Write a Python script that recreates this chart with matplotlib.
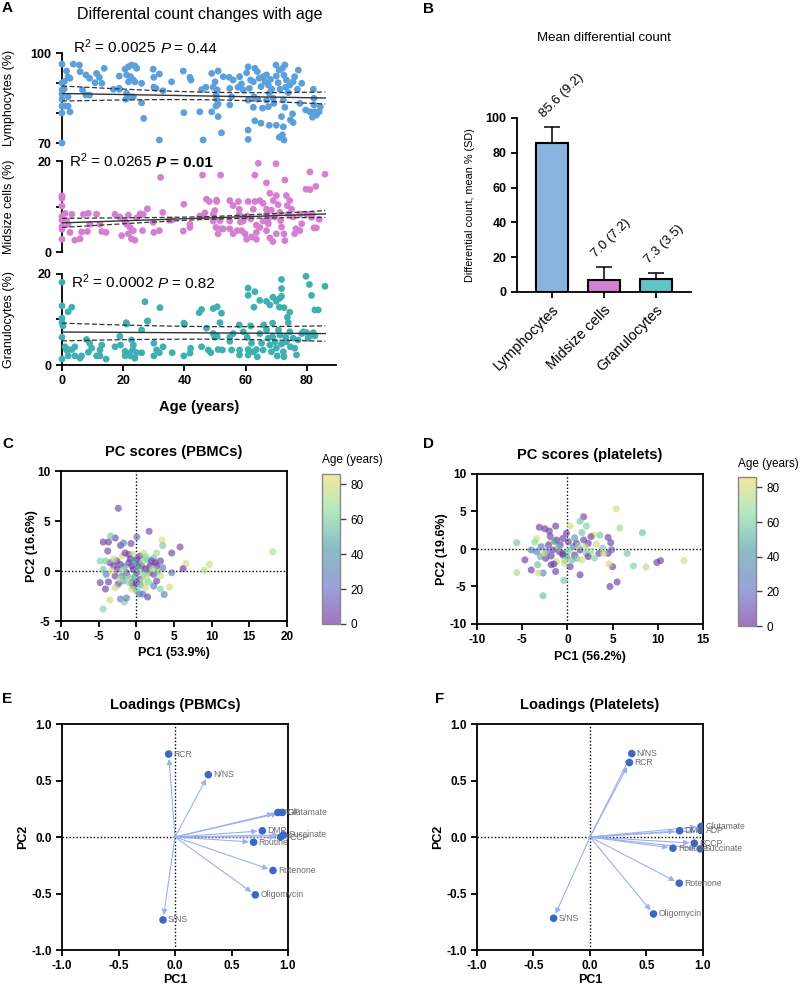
import numpy as np
import matplotlib
matplotlib.use('Agg')
import matplotlib.pyplot as plt
from matplotlib.colors import LinearSegmentedColormap

plt.rcParams['font.family'] = ['Liberation Sans', 'DejaVu Sans']
plt.rcParams['mathtext.fontset'] = 'custom'
plt.rcParams['mathtext.rm'] = 'Liberation Sans'
plt.rcParams['mathtext.it'] = 'Liberation Sans:italic'
plt.rcParams['mathtext.bf'] = 'Liberation Sans:bold'
plt.rcParams['axes.linewidth'] = 1.3

# ---- panel A: (age, %)
lymph = [(0,96.3),(0,90),(0,87.7),(0,86.3),(0,84.6),(0,82.3),(0,80),(0,70),(1.5,94),(2,92),(0.8,90.5),
         (2.6,91.6),(0.7,88),(2,85.4),(1,82.3),(2,82.3),(2.6,80.4),(3.7,96.3),(5.7,96),(5.9,93.8),(7.8,92.7),
         (9,91.6),(6.7,87.7),(7.8,86),(9,86),(11.3,93.2),(12.2,91.9),(10.8,90.1),(13.8,94.9),(13,89.9),
         (16.8,87.9),(18.7,92.3),(18.7,88.2),(20.6,94.6),(21.7,95.4),(22.7,96),(23.8,95.7),(24.4,94.9),
         (21.1,92.7),(22.4,92.1),(23.3,91),(21.7,90.4),(23.8,90.4),(21.1,86.6),(22.4,85.4),(20.9,84.6),
         (23.3,85.4),(18.7,87.9),(26,89.9),(26,83.4),(26.7,78.2),(29.8,94.6),(31.8,93),(30,91.9),(30,88.6),
         (30.7,88.2),(33,87.4),(31.8,71),(35.8,90.4),(39.6,94),(41.8,91.9),(42.1,91),(39.8,80.1),(45,80.4),
         (45.6,87.8),(46.1,71),(47,88.6),(48.9,93.2),(51,94),(50,90.4),(49.4,88.6),(50.7,87.7),(50.3,86),
         (50.5,84.6),(51,83),(50.3,82.3),(48.9,80.4),(51,78.8),(52.1,73.4),(52.7,92.1),(54.6,91.9),(55.9,91),
         (54.8,88.2),(55.4,85.4),(54.8,82.7),(58,92.1),(57.5,88.6),(58.6,89.7),(59.2,87.7),(60.8,95.4),
         (60.3,93.4),(61.6,91),(61.2,88.2),(62.5,90.4),(62.7,85.4),(60.8,84.3),(62.5,81.9),(60.8,74.3),
         (60.8,71.2),(63,77.4),(63,94.9),(63.8,93.8),(64.4,91.6),(65,88.8),(65.7,92.1),(66.3,90.4),(66.8,92.7),
         (67.4,89.3),(68.1,91.2),(68.5,87.9),(67.7,86.6),(66.8,84.3),(69,84.9),(69.2,83.2),(70,92.3),(70.6,90.1),
         (71.2,87.9),(69.9,96),(71,94.3),(72,94.9),(72.8,96),(72.5,92.6),(73.3,91),(73.1,88.6),(73.9,86.8),
         (74.4,89.3),(72.3,84.3),(72.8,81.9),(71.7,78.8),(72.3,75.4),(72,72.7),(72.5,71),(71,71.9),(70,75.9),
         (67.7,75.9),(67.4,82.1),(65,76.6),(65.5,81.6),(63.9,84.6),(75.5,90.4),(76,92.1),(77.2,94.3),(76.9,87.9),
         (75.3,79.7),(74.6,77.7),(75.5,76.8),(78.3,89.9),(77.7,83.2),(79.6,81),(81,80.4),(82.1,87.9),(82.3,82.7),
         (82.6,80.4),(83.1,79.3),(84,80.4),(84.4,82.1),(81.8,78.6),(82.3,84.9)]

midsize = [(64.1,19.5),(69.9,19.4),(32.2,16.4),(45.9,16.9),(51.8,16.9),(63,16.9),(72.8,15.8),(66.8,15.2),
           (81,17.6),(85.9,17.1),(82.9,14.4),(79.7,13.8),(81,13.7),(0,12.2),(47.2,11.6),(50.5,11.4),(0,12.3),
           (0,11.8),(0,10.1),(1,8.5),(3.2,8.3),(0,7.8),(0,7),(1.5,6.9),(0,5.6),(0,5.0),(0,2.8),(2,6.1),(2.6,4.3),
           (4.2,2.6),(5.9,2.9),(6.4,4.4),(7,8.3),(8.6,8.5),(11.3,8.3),(9.1,6.1),(8.3,4.5),(12.4,6.1),(13,4.5),
           (14.4,4.3),(17.3,8.3),(18.9,7.7),(19.5,3.6),(21.7,8.1),(21.1,6.1),(22.2,5.4),(21.7,4.0),(22.7,2.9),
           (23.8,2.6),(23.3,4.7),(24.4,7.5),(20.6,6.8),(25.5,8.4),(26.5,8.3),(27.9,9.5),(26.3,4.7),(29.8,6.5),
           (30,4.3),(31.8,4.7),(32.9,8.7),(35,7.0),(35.8,7.0),(39.8,10.5),(39.6,4.6),(41.8,5.4),(41.8,6.1),
           (45,7.9),(46.1,7.9),(48.1,11.1),(50.5,11.1),(49.4,6.8),(50.3,5.4),(51,4.0),(49.4,8.3),(49.9,9.1),
           (52.1,5.1),(51.6,6.9),(52.7,5.1),(54.8,5.1),(54.8,6.8),(55.9,4.0),(54.8,11.3),(55.9,10.2),(57.6,11.1),
           (57.9,9.4),(57.9,8.3),(58.3,6.6),(58.7,4.7),(60.3,2.8),(60.8,11.1),(60.5,7.9),(61.6,7.3),(63,11.1),
           (62.5,9.4),(63.5,5.9),(63.5,4.3),(63.5,2.8),(64.6,11.3),(65.7,10.7),(66.8,9.4),(66.8,8.3),(67.4,7.3),
           (67.4,6.2),(66.8,4.7),(67.9,3.1),(68.9,2.3),(69,11.3),(70,12.4),(70.6,10.4),(71.2,8.7),(71.4,6.9),
           (71.7,5.5),(70,4.0),(72.5,4.0),(72.8,2.5),(73.6,10.2),(73.9,8.3),(74.4,11.3),(75,9.4),(75.5,7.7),
           (76.4,5.1),(76,4.0),(77.7,4.7),(78.3,6.2),(79.9,8.3),(81.5,7.6),(82.3,5.3),(83.1,5.3),(84,7.2),
           (81.8,8.3),(77.7,8.3),(73.3,12.4),(67.9,12.9),(68.4,9.2),(69.5,7.7),(65.7,6.8),(64.6,5.4),(59.2,6.8),
           (59.8,4.0),(61.9,3.3),(57.2,4.7),(46.7,8.6)]

granulo = [(0,18.2),(0,13.0),(3.2,12.7),(2,11.7),(27.1,13.9),(32,12.6),(44.8,11.5),(45.6,12.2),(49.4,12.4),
           (50.7,12.8),(60.8,16.9),(60.8,15.3),(63,16.1),(62.7,12.7),(64.6,14.2),(66.8,14.0),(67.9,13.2),
           (68.9,14.9),(70,14.0),(71,14.6),(71.7,18.8),(71.7,16.8),(71.7,15.1),(71,12.7),(72.5,12.6),(74.4,11.6),
           (73.6,10.5),(79.7,19.5),(80.8,17.7),(81.5,15.3),(82.6,12.1),(83.7,12.1),(85.9,17.3),(27.9,9.6),
           (21.1,9.0),(40,8.9),(0,10.3),(0,9.3),(0.3,8.6),(0,6.1),(1,4.0),(2,3.4),(3.2,3.4),(1.5,3.3),(4.2,4.0),
           (2,2.0),(4.2,2.0),(6.4,2.0),(5.9,1.5),(0,1.3),(8,5.6),(9,4.8),(9.7,3.7),(8.6,2.8),(11.3,2.0),(12.4,2.0),
           (12.4,3.3),(13,4.4),(14.4,1.3),(17.3,4.0),(18.9,6.3),(19.1,4.4),(20.6,3.0),(21,9.3),(20.6,2.0),
           (21.7,2.6),(22.4,2.0),(23.1,3.4),(23.8,1.5),(24.4,2.7),(22.7,5.5),(23.3,4.4),(26,7.7),(26,2.7),
           (28,9.7),(30,4.8),(30,2.0),(30.9,3.3),(31.8,2.7),(33,4.0),(36,2.7),(39.8,2.0),(39.8,9.2),(42,3.7),
           (41.8,2.6),(45.6,4.0),(47.2,8.1),(47.8,3.3),(48.6,2.7),(49.4,6.9),(49.9,6.1),(50.7,6.3),(51,3.4),
           (52.4,3.3),(51.6,9.3),(52.1,11.4),(54.8,6.1),(54.8,5.2),(55.4,3.3),(55.9,6.9),(57.9,8.8),(58,3.3),
           (58,2.2),(59.2,7.3),(60.5,6.1),(60.8,3.4),(60.8,2.2),(61.6,8.6),(61.9,4.8),(62.5,2.9),(63.5,3.4),
           (63.8,1.8),(64.6,6.9),(65.2,4.8),(65.7,3.3),(65.9,8.8),(66.8,7.7),(67.4,5.9),(67.9,4.4),(68.4,2.9),
           (68.8,6.2),(68.8,9.2),(69.6,5.1),(70,3.7),(70.3,2.0),(70.7,7.7),(71.2,6.6),(71.7,4.6),(72.3,2.9),
           (72.5,1.8),(73.1,6.1),(73.3,5.1),(73.9,9.3),(74.4,7.3),(74.6,4.0),(75.5,5.9),(76,3.7),(76.6,2.2),
           (77.1,5.5),(78.3,6.9),(78.8,7.3),(79.9,7.1),(80.4,5.9),(81.5,6.6),(82.1,7.1),(82.6,6.4)]

# linear fits: intercept, slope, CI half-width at age 0 and at age 86
lymph_fit = (86.5, -0.0175, 2.5, 2.0)
mid_fit = (6.4, 0.0227, 1.0, 0.75)
gran_fit = (7.25, -0.004, 1.95, 1.7)
mean_age = 50

# ---- panel B
cell_types = ['Lymphocytes', 'Midsize cells', 'Granulocytes']
mean_pct = [85.6, 7.0, 7.3]
sd_pct = [9.2, 7.2, 3.5]

# ---- panels C, D: (PC1, PC2, age)
pbmc_scores = [(18.1,1.92,72),(9.7,0.66,80),(9.0,0.07,74),(6.6,0.76,80),(6.2,0.23,3),(5.8,2.4,8),(4.7,1.8,8),
    (4.7,-0.17,22),(4.4,-1.6,80),(3.7,-2.35,28),(3.4,3.1,82),(3.5,2.55,58),(1.7,3.97,8),(0.06,3.4,25),
    (-4.4,2.9,6),(-3.7,2.9,5),(-2.8,3.3,8),(-3.4,3.5,58),(-3.8,2.0,8),(-2.4,6.27,8),(-2.1,2.55,6),
    (-0.7,2.75,8),(-1.7,2.8,25),(-4.8,-1.16,8),(-4.1,-1.8,6),(-3.5,-2.9,78),(-4.4,-3.8,62),(-2.1,-2.8,25),
    (-1.6,-3.1,60),(-1.3,-2.7,28),(0.4,-2.3,25),(0.85,-2.3,22),(1.5,-2.6,6),(2.3,-1.5,25),(2.7,-1.0,6),
    (3.2,-0.5,80),(3.5,0.33,25),(3.2,1.0,6),(2.7,0.5,5),(2.3,1.3,55),(1.6,0.33,80),(1.05,-0.17,78),
    (0.5,-0.83,5),(0.06,-1.16,4),(-0.4,-1.5,5),(-0.83,-0.66,76),(-1.3,-0.17,5),(-1.7,-1.0,50),(-2.4,-1.3,6),
    (-2.8,-0.5,5),(-3.0,0.5,6),(-2.6,1.0,5),(-3.5,0.83,8),(-4.1,1.0,60),(-4.0,-0.33,25),(-1.9,1.5,80),
    (-1.5,1.8,5),(-1.0,1.66,8),(-0.4,1.66,78),(0.06,1.16,5),(0.5,1.5,6),(1.0,1.8,80),(1.4,1.16,55),
    (2.0,1.0,6),(2.5,0.83,5),(1.8,-0.17,50),(2.3,-0.33,6),(1.4,-0.66,80),(0.7,0.5,4),(-0.6,0.5,5),
    (-1.0,0.83,6),(-2.1,0.66,5),(-2.5,0.17,6),(-3.3,0.0,80),(-4.4,0.17,58),(-2.8,-1.66,78),(-0.6,-1.8,80),
    (0.06,-2.0,55),(1.2,-1.66,80),(3.2,-1.8,62),(2.7,1.8,70),(0.06,-0.17,5),(-0.4,0.17,4),(0.4,0.83,6),
    (1.2,0.17,5),(1.8,0.5,6),(-0.8,1.2,5),(-1.6,0.43,28),(0.85,-1.0,80),(-0.6,-1.16,6),(-1.9,-0.5,25),
    (-3.0,1.2,78),(-4.8,1.0,62),(-3.7,-1.1,6),(0.3,0.2,60),(1.0,-0.4,65),(-0.2,-0.6,45),(0.8,0.9,70),
    (-1.2,-0.5,58),(1.6,-1.1,62),(2.2,0.2,75),(-0.9,-1.2,66),(0.5,-1.4,52),(-1.8,0.1,70),(1.3,1.4,64),
    (-0.3,1.0,42),(2.9,0.0,57),(-2.2,-0.8,72),(0.2,0.5,35)]

platelet_scores = [(5.4,5.36,80),(1.8,4.3,8),(5.8,2.8,70),(8.3,2.17,55),(6.6,-0.58,58),(7.3,-2.26,62),
    (8.7,-2.4,75),(9.9,-1.8,6),(10.3,-1.55,6),(12.9,-1.55,80),(4.7,-5.0,6),(5.5,-4.4,6),(5.0,-2.35,6),
    (4.6,-2.0,80),(4.5,-0.58,6),(4.9,-0.1,15),(4.8,0.84,6),(4.5,1.55,6),(3.5,-0.58,5),(4.0,-0.58,80),
    (3.6,1.86,58),(2.9,1.86,80),(2.1,3.05,62),(1.4,3.7,58),(1.4,-3.45,6),(0.3,-2.35,6),(-0.3,-1.9,80),
    (-0.4,-4.2,58),(-1.3,-3.0,6),(-2.7,-6.24,55),(-2.7,-3.2,25),(-3.2,-3.2,78),(-4.0,-2.8,6),(-4.7,-1.46,6),
    (-5.6,-3.14,70),(-5.6,0.84,58),(-3.3,-2.1,55),(-3.4,1.4,80),(-3.1,2.9,6),(-2.5,2.7,6),(-2.0,2.4,6),
    (-1.3,3.05,6),(0.3,3.05,80),(-0.1,2.1,6),(-1.2,1.2,5),(-0.8,0.53,5),(-1.6,-0.13,5),(-2.3,-0.35,25),
    (-2.9,0.31,25),(-3.4,-0.35,25),(-4.0,-0.13,30),(-3.0,-1.0,50),(-2.4,-1.24,6),(-1.8,-0.93,5),
    (-1.2,-1.7,80),(-0.5,-0.58,5),(-0.1,-1.0,50),(0.5,-1.46,55),(0.8,-0.8,6),(1.4,-0.13,6),(1.8,1.2,6),
    (2.3,0.75,5),(2.6,1.64,6),(3.2,0.66,80),(3.9,0.1,58),(0.65,0.31,25),(1.0,0.75,5),(0.1,0.97,5),
    (-0.5,1.4,6),(-1.8,0.97,80),(-2.1,0.53,6),(2.1,-0.58,58),(2.3,-1.0,3),(1.6,-1.46,80),(1.0,-1.24,58),
    (-0.5,-0.8,5),(-0.9,-0.35,6),(-1.5,-2.0,6),(-1.8,-2.1,6),(-1.9,1.7,6),(0.2,-0.2,62),(1.2,0.4,70),
    (-1.0,0.2,55),(2.6,-0.3,66),(-2.6,-0.6,75),(0.8,1.5,45),(-0.3,-1.5,68),(3.0,-1.2,60),(-1.4,1.0,40),
    (2.0,0.3,72),(-3.6,0.9,64),(1.6,2.2,58)]

# ---- panels E, F: loadings
load_names = ['RCR', 'N/NS', 'ADP', 'Glutamate', 'DMP', 'Succinate', 'FCCP', 'Routine', 'Rotenone',
              'Oligomycin', 'S/NS']
pbmc_pc1 = [-0.056, 0.295, 0.911, 0.95, 0.773, 0.96, 0.935, 0.696, 0.867, 0.711, -0.106]
pbmc_pc2 = [0.734, 0.551, 0.217, 0.217, 0.055, 0.019, -0.001, -0.046, -0.296, -0.512, -0.734]
plt_pc1 = [0.349, 0.37, 0.982, 0.982, 0.793, 0.976, 0.923, 0.734, 0.79, 0.562, -0.322]
plt_pc2 = [0.659, 0.738, 0.058, 0.093, 0.055, -0.105, -0.055, -0.099, -0.409, -0.681, -0.719]

W, H = 800, 988
fig = plt.figure(figsize=(8, 9.88), dpi=100)
renderer = fig.canvas.get_renderer()


def px_axes(l, t, r, b):
    return fig.add_axes([l / W, 1 - b / H, (r - l) / W, (b - t) / H])


def letter(x, y, s):
    fig.text(x / W, 1 - y / H, s, fontsize=11, fontweight='bold', va='top', ha='left')


def runs_text(x, y, runs, size=11, gap=4.2):
    # write pieces of differing style one after another on a common baseline
    for s, style, weight in runs:
        t = fig.text(x / W, 1 - y / H, s, fontsize=size, style=style, fontweight=weight,
                     ha='left', va='baseline')
        x = t.get_window_extent(renderer=renderer).x1 + gap


tick_kw = dict(direction='out', length=4, width=1.3)

# ================= A
letter(2, 1, 'A')
fig.text(200 / W, 1 - 15 / H, 'Differental count changes with age', fontsize=11.5, ha='center', va='center')
a_axes = [px_axes(62, 53, 336, 143), px_axes(62, 161, 336, 252), px_axes(62, 274, 336, 365)]
a_data = [lymph, midsize, granulo]
a_fits = [lymph_fit, mid_fit, gran_fit]
a_cols = ['#5b9fdb', '#d67fd2', '#3fb0b1']
a_lims = [(70, 100), (0, 20), (0, 20)]
a_minor = [[80, 90], [10], [10]]
a_names = ['Lymphocytes (%)', 'Midsize cells (%)', 'Granulocytes (%)']
a_stats = [[('R$^2$ = 0.0025', 'normal', 'normal'), ('P', 'italic', 'normal'), ('= 0.44', 'normal', 'normal')],
           [('R$^2$ = 0.0265', 'normal', 'normal'), ('P', 'italic', 'bold'), ('= 0.01', 'normal', 'bold')],
           [('R$^2$ = 0.0002', 'normal', 'normal'), ('P', 'italic', 'normal'), ('= 0.82', 'normal', 'normal')]]
a_stat_pos = [(73, 53), (69, 167), (71, 288)]
for ax, d, fit, col, lim, mn, name, st, sp in zip(a_axes, a_data, a_fits, a_cols, a_lims, a_minor,
                                                  a_names, a_stats, a_stat_pos):
    d = np.array(d)
    ax.scatter(d[:, 0], d[:, 1], s=24, color=col, edgecolors='none', clip_on=False, zorder=3)
    b0, b1, h0, h1 = fit
    xs = np.linspace(0, 86, 200)
    k2 = (h0 ** 2 - h1 ** 2) / (mean_age ** 2 - (86 - mean_age) ** 2)
    hm2 = max(h0 ** 2 - k2 * mean_age ** 2, 0.01)
    hw = np.sqrt(hm2 + k2 * (xs - mean_age) ** 2)
    yfit = b0 + b1 * xs
    ax.plot(xs, yfit, color='#333333', lw=1.0, zorder=4)
    ax.plot(xs, yfit + hw, color='#333333', lw=0.9, ls=(0, (4, 2)), zorder=4)
    ax.plot(xs, yfit - hw, color='#333333', lw=0.9, ls=(0, (4, 2)), zorder=4)
    ax.set_xlim(0, 89.5)
    ax.set_ylim(*lim)
    ax.set_yticks(list(lim))
    ax.set_yticks(mn, minor=True)
    ax.tick_params(axis='y', which='both', **tick_kw, labelsize=9)
    for lab in ax.get_yticklabels():
        lab.set_fontweight('bold')
    ax.spines['top'].set_visible(False)
    ax.spines['right'].set_visible(False)
    ax.set_ylabel(name, fontsize=9)
    ax.yaxis.set_label_coords(-0.172, 0.5)
    runs_text(sp[0], sp[1], st)
for ax in a_axes[:2]:
    ax.spines['bottom'].set_visible(False)
    ax.set_xticks([])
a_axes[2].set_xticks([0, 20, 40, 60, 80])
a_axes[2].tick_params(axis='x', **tick_kw, labelsize=9)
for lab in a_axes[2].get_xticklabels():
    lab.set_fontweight('bold')
a_axes[2].set_xlabel('Age (years)', fontsize=10.5, fontweight='bold', labelpad=9)

# ================= B
letter(423, 2, 'B')
fig.text(604 / W, 1 - 38 / H, 'Mean differential count', fontsize=9.5, ha='center', va='center')
axb = px_axes(517, 118, 691, 292)
xb = np.arange(len(cell_types))
axb.bar(xb, mean_pct, width=0.62, color=['#89b4e0', '#d47fd0', '#5ec6c6'], edgecolor='black',
        linewidth=1.5, zorder=2)
axb.errorbar(xb, mean_pct, yerr=[np.zeros(3), sd_pct], fmt='none', ecolor='black', elinewidth=1.1,
             capsize=6, capthick=1.1, zorder=1)
for xi, m, s in zip(xb, mean_pct, sd_pct):
    axb.annotate(f'{m:.1f} ({s:.1f})', (xi, m + s), xytext=(-4, 5), textcoords='offset points',
                 rotation=45, rotation_mode='anchor', ha='left', va='bottom', fontsize=9.5)
axb.set_xlim(-0.67, 2.67)
axb.set_ylim(0, 100)
axb.set_yticks([0, 20, 40, 60, 80, 100])
axb.set_xticks(xb)
axb.set_xticklabels(cell_types, rotation=45, ha='right', rotation_mode='anchor', fontsize=10.5)
axb.tick_params(**tick_kw)
axb.tick_params(axis='y', labelsize=9)
for lab in axb.get_yticklabels():
    lab.set_fontweight('bold')
axb.spines['top'].set_visible(False)
axb.spines['right'].set_visible(False)
axb.set_ylabel('Differential count, mean % (SD)', fontsize=7.8)
axb.yaxis.set_label_coords(-0.24, 0.5)

# ================= C, D
age_cmap = LinearSegmentedColormap.from_list('age', ['#6e2c9c', '#6272c4', '#4a98a8', '#86dca0', '#efdc6c'])


def style_box(ax, xt, yt, fmt):
    ax.set_xticks(xt)
    ax.set_yticks(yt)
    ax.set_xticklabels([fmt(v) for v in xt])
    ax.set_yticklabels([fmt(v) for v in yt])
    ax.tick_params(**tick_kw, labelsize=8.5)
    for lab in ax.get_xticklabels() + ax.get_yticklabels():
        lab.set_fontweight('bold')
    ax.axhline(0, color='black', lw=1.0, ls=(0, (1, 1.5)), zorder=1)
    ax.axvline(0, color='black', lw=1.0, ls=(0, (1, 1.5)), zorder=1)


score_panels = [
    ('C', (2, 437), (61, 471, 287, 621), (322, 474, 340, 624), pbmc_scores, 'PC scores (PBMCs)',
     'PC1 (53.9%)', 'PC2 (16.6%)', (-10, 20), (-5, 10), [-10, -5, 0, 5, 10, 15, 20], [-5, 0, 5, 10],
     -0.10, -0.173),
    ('D', (423, 437), (477, 474, 703, 624), (738, 477, 756, 626), platelet_scores, 'PC scores (platelets)',
     'PC1 (56.2%)', 'PC2 (19.6%)', (-10, 15), (-10, 10), [-10, -5, 0, 5, 10, 15], [-10, -5, 0, 5, 10],
     -0.128, -0.18),
]
for (lt, lpos, box, cbox, pts, title, xl, yl, xlim, ylim, xt, yt, ylx, xly) in score_panels:
    letter(lpos[0], lpos[1], lt)
    ax = px_axes(*box)
    pts = np.array(pts)
    sc = ax.scatter(pts[:, 0], pts[:, 1], c=pts[:, 2], cmap=age_cmap, vmin=0, vmax=86, s=26, alpha=0.65,
                    edgecolors='none', zorder=3)
    ax.set_xlim(*xlim)
    ax.set_ylim(*ylim)
    style_box(ax, xt, yt, lambda v: f'{v:g}')
    ax.set_title(title, fontsize=10.5, fontweight='bold', pad=11)
    ax.set_xlabel(xl, fontsize=9, fontweight='bold')
    ax.xaxis.set_label_coords(0.5, xly)
    ax.set_ylabel(yl, fontsize=9, fontweight='bold')
    ax.yaxis.set_label_coords(ylx, 0.5)
    cax = px_axes(*cbox)
    cb = fig.colorbar(sc, cax=cax, alpha=0.55)
    cb.set_ticks([0, 20, 40, 60, 80])
    cb.outline.set_edgecolor('#888888')
    cb.outline.set_linewidth(1.0)
    cax.tick_params(length=4, width=1.0, labelsize=8.5, color='#444444')
    cax.text(0, 1.05, 'Age (years)', transform=cax.transAxes, fontsize=8.5, ha='left', va='bottom')

# ================= E, F
load_panels = [
    ('E', (2, 692), (62, 724, 288, 950), pbmc_pc1, pbmc_pc2, 'Loadings (PBMCs)', -0.146),
    ('F', (435, 692), (477, 724, 703, 950), plt_pc1, plt_pc2, 'Loadings (Platelets)', -0.146),
]
for lt, lpos, box, pc1, pc2, title, ylx in load_panels:
    letter(lpos[0], lpos[1], lt)
    ax = px_axes(*box)
    for name, lx, ly in zip(load_names, pc1, pc2):
        ax.annotate('', xy=(lx, ly), xytext=(0, 0),
                    arrowprops=dict(arrowstyle='-|>', color='#9db0ee', lw=0.8, mutation_scale=8,
                                    shrinkA=0, shrinkB=3.5), zorder=2)
        ax.annotate(name, (lx, ly), xytext=(3.5, 0), textcoords='offset points', va='center', ha='left',
                    fontsize=6.2, color='#6a6a6a', zorder=4)
    ax.scatter(pc1, pc2, s=30, color='#3a68c4', edgecolors='none', zorder=3)
    ax.set_xlim(-1, 1)
    ax.set_ylim(-1, 1)
    ticks = [-1.0, -0.5, 0.0, 0.5, 1.0]
    style_box(ax, ticks, ticks, lambda v: f'{v:.1f}')
    ax.set_title(title, fontsize=10.5, fontweight='bold', pad=11)
    ax.set_xlabel('PC1', fontsize=9, fontweight='bold')
    ax.xaxis.set_label_coords(0.5, -0.108)
    ax.set_ylabel('PC2', fontsize=9, fontweight='bold')
    ax.yaxis.set_label_coords(ylx, 0.5)

fig.savefig('out.png', dpi=100)
